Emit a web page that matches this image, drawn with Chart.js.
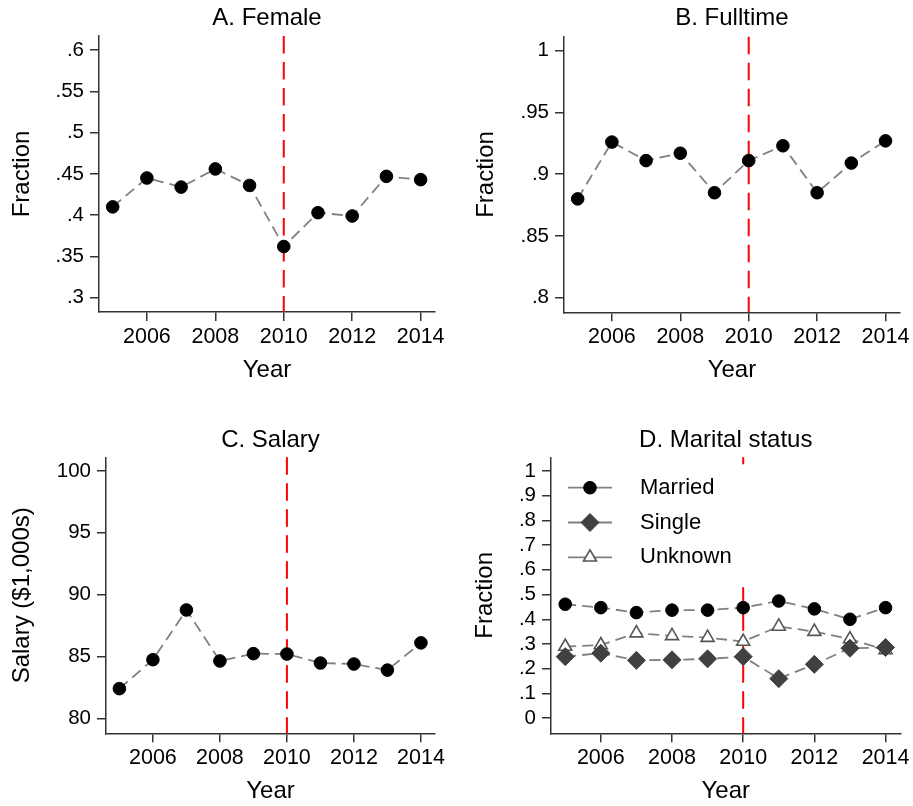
<!DOCTYPE html>
<html>
<head>
<meta charset="utf-8">
<script src="https://cdn.jsdelivr.net/npm/chart.js@4.4.1/dist/chart.umd.min.js"></script>
<style>
	body { margin: 0; background: #fff; }
	#wrap { position: relative; width: 913px; height: 806px; }
	canvas { position: absolute; }
</style>
</head>
<body>
<div id="wrap">
	<canvas id="chartA" width="456" height="403" style="left:0;top:0"></canvas>
	<canvas id="chartB" width="457" height="403" style="left:456px;top:0"></canvas>
	<canvas id="chartC" width="456" height="403" style="left:0;top:403px"></canvas>
	<canvas id="chartD" width="457" height="403" style="left:456px;top:403px"></canvas>
</div>
<script>
// Data
const years = [2005, 2006, 2007, 2008, 2009, 2010, 2011, 2012, 2013, 2014];
const yearTicks = [2006, 2008, 2010, 2012, 2014];
const cutoffYear = 2010;

const female = [0.410, 0.445, 0.434, 0.456, 0.436, 0.362, 0.403, 0.399, 0.447, 0.443];
const fulltime = [0.880, 0.926, 0.911, 0.917, 0.885, 0.911, 0.923, 0.885, 0.909, 0.927];
const salary = [82.4, 84.74, 88.76, 84.64, 85.23, 85.2, 84.47, 84.39, 83.9, 86.1];
const married = [0.461, 0.447, 0.427, 0.437, 0.437, 0.447, 0.474, 0.442, 0.400, 0.447];
const single = [0.249, 0.263, 0.234, 0.236, 0.240, 0.249, 0.160, 0.218, 0.283, 0.286];
const unknown = [0.290, 0.296, 0.344, 0.333, 0.326, 0.310, 0.371, 0.350, 0.320, 0.276];

const femaleTicks = [0.3, 0.35, 0.4, 0.45, 0.5, 0.55, 0.6];
const fulltimeTicks = [0.8, 0.85, 0.9, 0.95, 1];
const salaryTicks = [80, 85, 90, 95, 100];
const maritalTicks = [0, 0.1, 0.2, 0.3, 0.4, 0.5, 0.6, 0.7, 0.8, 0.9, 1];

const FONT = "'Liberation Sans', Helvetica, Arial, sans-serif";
const AXIS = "#333";
const GRAY = "#808080";

function points(vals) {
	return years.map((yr, i) => ({ x: yr, y: vals[i] }));
}

// Stata style labels: .45 instead of 0.45
function fmt(v) {
	return String(+v.toFixed(2)).replace(/^0\./, ".");
}

function series(label, vals, style) {
	return Object.assign({
		label: label,
		data: points(vals),
		borderColor: GRAY,
		borderWidth: 1.8,
		borderDash: [11, 6],
		pointStyle: "circle",
		pointRadius: 6.3,
		pointBackgroundColor: "#000",
		pointBorderColor: "#000",
		pointBorderWidth: 1,
		fill: false,
		tension: 0,
	}, style || {});
}

// red dashed line at the reform year
const cutoffLine = {
	id: "cutoffLine",
	beforeDatasetsDraw(chart) {
		const { ctx, chartArea, scales } = chart;
		const x = scales.x.getPixelForValue(cutoffYear);
		ctx.save();
		ctx.strokeStyle = "#ff0000";
		ctx.lineWidth = 2;
		ctx.setLineDash([17.5, 8.5]);
		ctx.beginPath();
		ctx.moveTo(x, chartArea.top);
		ctx.lineTo(x, chartArea.bottom);
		ctx.stroke();
		ctx.restore();
	},
};

// legend inside the plot for panel D, on a white box
const innerLegend = {
	id: "innerLegend",
	afterDatasetsDraw(chart) {
		const { ctx, chartArea } = chart;
		const left = chartArea.left;
		const top = chartArea.top;
		ctx.save();
		ctx.fillStyle = "#fff";
		ctx.fillRect(left + 2, top + 7, 215, 119);
		chart.data.datasets.forEach((ds, i) => {
			const y = top + 30.4 + i * 34.8;
			ctx.setLineDash([]);
			ctx.strokeStyle = GRAY;
			ctx.lineWidth = 1.8;
			ctx.beginPath();
			ctx.moveTo(left + 17, y);
			ctx.lineTo(left + 61, y);
			ctx.stroke();
			ctx.fillStyle = ds.pointBackgroundColor;
			ctx.strokeStyle = ds.pointBorderColor;
			ctx.lineWidth = ds.pointBorderWidth;
			Chart.helpers.drawPoint(ctx, {
				pointStyle: ds.pointStyle,
				radius: ds.pointRadius,
				borderWidth: ds.pointBorderWidth,
				rotation: 0,
			}, left + 39, y);
			ctx.fillStyle = "#000";
			ctx.font = "22px " + FONT;
			ctx.textBaseline = "middle";
			ctx.textAlign = "left";
			ctx.fillText(ds.label, left + 89, y);
		});
		ctx.restore();
	},
};

function makePanel(id, p) {
	new Chart(document.getElementById(id), {
		type: "line",
		data: { datasets: p.datasets },
		options: {
			responsive: false,
			animation: false,
			layout: { padding: { right: p.padRight } },
			plugins: {
				legend: { display: false },
				tooltip: { enabled: false },
				title: {
					display: true,
					text: p.title,
					fullSize: false,
					color: "#000",
					font: { family: FONT, size: 24, weight: "normal" },
					padding: { top: p.titleTop, bottom: p.titleBottom },
				},
			},
			scales: {
				x: {
					type: "linear",
					min: 2004.6,
					max: 2014.42,
					afterBuildTicks: (s) => { s.ticks = yearTicks.map((v) => ({ value: v })); },
					afterFit: (s) => { s.height = p.xHeight; },
					ticks: {
						color: "#000",
						font: { family: FONT, size: 21.5 },
						padding: 3,
						maxRotation: 0,
						autoSkip: false,
						callback: (v) => String(v),
					},
					grid: { drawOnChartArea: false, tickLength: 9, color: AXIS, lineWidth: 1.5 },
					border: { color: AXIS, width: 1.5 },
					title: {
						display: true,
						text: "Year",
						color: "#000",
						font: { family: FONT, size: 24 },
						padding: { top: 0, bottom: p.yearBottom },
					},
				},
				y: {
					min: p.yMin,
					max: p.yMax,
					afterBuildTicks: (s) => { s.ticks = p.yTicks.map((v) => ({ value: v })); },
					afterFit: (s) => { s.width = p.yWidth; },
					ticks: {
						color: "#000",
						font: { family: FONT, size: 20.5 },
						padding: 6,
						autoSkip: false,
						callback: (v) => fmt(v),
					},
					grid: { drawOnChartArea: false, tickLength: 9, color: AXIS, lineWidth: 1.5 },
					border: { color: AXIS, width: 1.5 },
					title: {
						display: true,
						text: p.yTitle,
						color: "#000",
						font: { family: FONT, size: 24 },
						padding: { top: p.yTitlePad, bottom: 0 },
					},
				},
			},
		},
		plugins: p.plugins,
	});
}

// A. Female
makePanel("chartA", {
	title: "A. Female",
	datasets: [series("Female", female)],
	yTicks: femaleTicks, yMin: 0.2827, yMax: 0.617,
	yTitle: "Fraction", yTitlePad: 7.6, yWidth: 99,
	padRight: 21, titleTop: 4.1, titleBottom: 3.1, xHeight: 91, yearBottom: 18.3,
	plugins: [cutoffLine],
});

// B. Fulltime
makePanel("chartB", {
	title: "B. Fulltime",
	datasets: [series("Fulltime", fulltime)],
	yTicks: fulltimeTicks, yMin: 0.7882, yMax: 1.0113,
	yTitle: "Fraction", yTitlePad: 15.6, yWidth: 108,
	padRight: 12, titleTop: 4.1, titleBottom: 3.8, xHeight: 90.7, yearBottom: 18.3,
	plugins: [cutoffLine],
});

// C. Salary
makePanel("chartC", {
	title: "C. Salary",
	datasets: [series("Salary", salary)],
	yTicks: salaryTicks, yMin: 78.79, yMax: 101.1,
	yTitle: "Salary ($1,000s)", yTitlePad: 8.1, yWidth: 106,
	padRight: 21, titleTop: 22.6, titleBottom: 2.9, xHeight: 72.7, yearBottom: 0.1,
	plugins: [cutoffLine],
});

// D. Marital status
makePanel("chartD", {
	title: "D. Marital status",
	datasets: [
		series("Married", married),
		series("Single", single, {
			pointStyle: "rectRot", pointRadius: 9,
			pointBackgroundColor: "#404040", pointBorderColor: "#404040",
		}),
		series("Unknown", unknown, {
			pointStyle: "triangle", pointRadius: 7.5,
			pointBackgroundColor: "#fff", pointBorderColor: "#555", pointBorderWidth: 1.6,
		}),
	],
	yTicks: maritalTicks, yMin: -0.061, yMax: 1.055,
	yTitle: "Fraction", yTitlePad: 15.3, yWidth: 95,
	padRight: 12, titleTop: 22.6, titleBottom: 2.9, xHeight: 72.7, yearBottom: 0.1,
	plugins: [cutoffLine, innerLegend],
});
</script>
</body>
</html>
